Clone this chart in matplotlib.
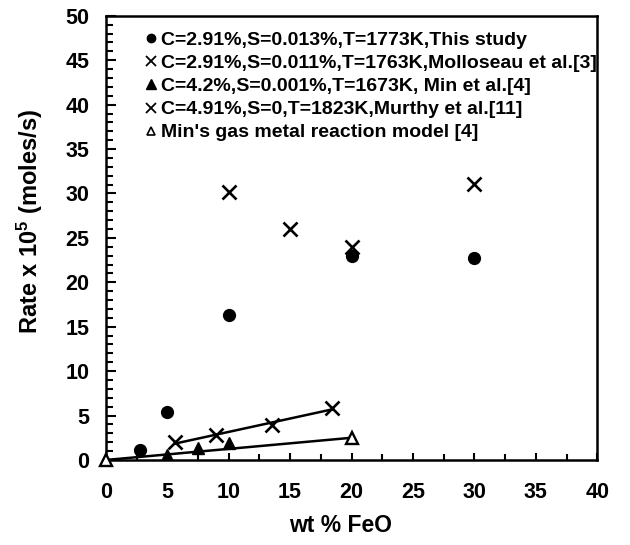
import numpy as np
import matplotlib
matplotlib.use("Agg")
import matplotlib.pyplot as plt
from matplotlib.lines import Line2D
from matplotlib.ticker import MultipleLocator

plt.rcParams['font.family'] = ['Liberation Sans', 'DejaVu Sans']
plt.rcParams['font.weight'] = 'bold'
plt.rcParams['mathtext.fontset'] = 'custom'
plt.rcParams['mathtext.rm'] = 'Liberation Sans:bold'
plt.rcParams['mathtext.it'] = 'Liberation Sans:bold'
plt.rcParams['mathtext.bf'] = 'Liberation Sans:bold'

# This study
study_feo = [2.8, 5, 10, 20, 30]
study_rate = [1.1, 5.4, 16.3, 23.0, 22.7]

# Molloseau et al.
mollo_feo = [10, 15, 20, 30]
mollo_rate = [30.2, 26.0, 24.0, 31.1]

# Min et al.
min_feo = [5, 7.5, 10]
min_rate = [0.6, 1.35, 1.9]

# Murthy et al.
murthy_feo = [5.6, 9.0, 13.5, 18.4]
murthy_rate = [2.0, 2.8, 3.9, 5.9]

# Min's gas metal reaction model
model_feo = [0, 20]
model_rate = [0, 2.5]

labels = [
    "C=2.91%,S=0.013%,T=1773K,This study",
    "C=2.91%,S=0.011%,T=1763K,Molloseau et al.[3]",
    "C=4.2%,S=0.001%,T=1673K, Min et al.[4]",
    "C=4.91%,S=0,T=1823K,Murthy et al.[11]",
    "Min's gas metal reaction model [4]",
]

fig = plt.figure(figsize=(6.3, 5.45), dpi=100)
ax = fig.add_axes([0.168, 0.156, 0.780, 0.815])

# trend lines
fit = np.polyfit(murthy_feo, murthy_rate, 1)
xs = np.array([murthy_feo[0], murthy_feo[-1]])
ax.plot(xs, np.polyval(fit, xs), color='black', lw=1.8, zorder=2)
ax.plot(model_feo, model_rate, color='black', lw=1.8, zorder=2, clip_on=False)

ax.plot(study_feo, study_rate, 'o', color='black', ms=8.5, zorder=3)
ax.plot(mollo_feo, mollo_rate, 'x', color='black', ms=9.5, mew=1.9, zorder=3)
ax.plot(min_feo, min_rate, '^', color='black', ms=9, zorder=3)
ax.plot(murthy_feo, murthy_rate, 'x', color='black', ms=10, mew=1.9, zorder=3)
ax.plot(model_feo, model_rate, '^', mfc='white', mec='black', ms=8, mew=1.7,
        zorder=4, clip_on=False)

ax.set_xlim(0, 40)
ax.set_ylim(0, 50)
ax.xaxis.set_major_locator(MultipleLocator(5))
ax.xaxis.set_minor_locator(MultipleLocator(2.5))
ax.yaxis.set_major_locator(MultipleLocator(5))
ax.yaxis.set_minor_locator(MultipleLocator(1))
ax.tick_params(axis='both', which='both', direction='in', top=False, right=False,
               labelsize=15.5, width=1.5)
ax.tick_params(axis='x', which='major', length=5, pad=16)
ax.tick_params(axis='x', which='minor', length=4)
ax.tick_params(axis='y', which='major', length=7, pad=12)
ax.tick_params(axis='y', which='minor', length=5)
for lab in ax.get_xticklabels() + ax.get_yticklabels():
    lab.set_fontweight('bold')
for sp in ax.spines.values():
    sp.set_linewidth(1.8)

ax.set_xlabel("wt % FeO", fontsize=16.5, fontweight='bold')
ax.set_ylabel("Rate x 10$^{5}$ (moles/s)", fontsize=17, fontweight='bold')
ax.xaxis.set_label_coords(0.477, -0.122)
ax.yaxis.set_label_coords(-0.124, 0.536)

handles = [
    Line2D([], [], ls='none', marker='o', color='black', ms=6),
    Line2D([], [], ls='none', marker='x', color='black', ms=6.5, mew=1.3),
    Line2D([], [], ls='none', marker='^', color='black', ms=6.5),
    Line2D([], [], ls='none', marker='x', color='black', ms=6.5, mew=1.3),
    Line2D([], [], ls='none', marker='^', mfc='white', mec='black', ms=6, mew=1.2),
]
leg = ax.legend(handles, labels, loc='upper left', bbox_to_anchor=(0.064, 0.982),
                frameon=False, handlelength=0.6, handletextpad=0.2,
                labelspacing=0.28, borderaxespad=0, prop={'size': 14, 'weight': 'bold'})

fig.savefig("out.png", dpi=100)
